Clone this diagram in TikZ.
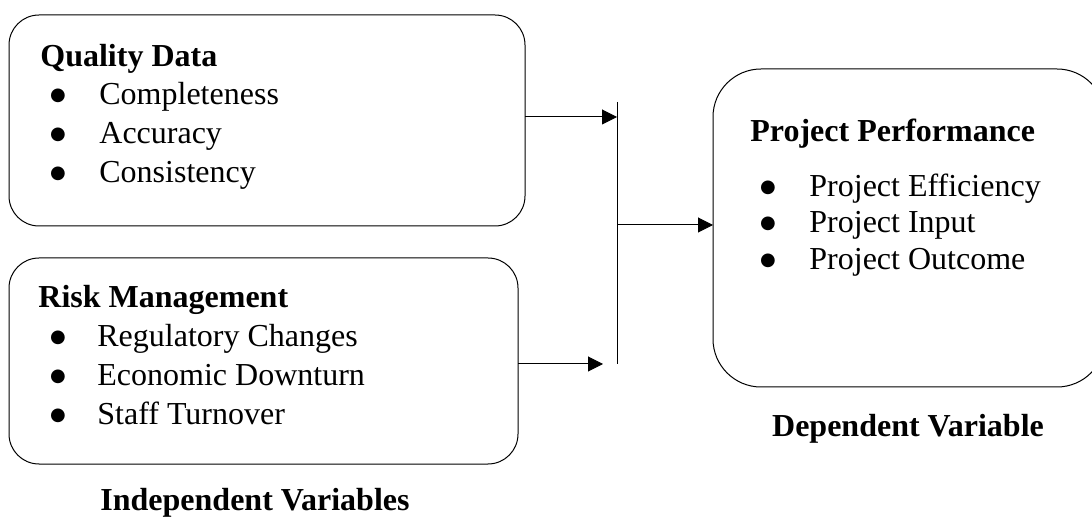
\documentclass[tikz,border=0pt]{standalone}
\usepackage{fontspec}
\setmainfont{Liberation Serif}
\newfontfamily\bulfont{DejaVu Sans}
\usetikzlibrary{arrows.meta}
\begin{document}
\begin{tikzpicture}[x=0.5pt,y=-0.5pt,
  box/.style={draw, line width=0.5pt, inner sep=0pt, outer sep=0pt, anchor=north west},
  txt/.style={anchor=base west, inner sep=0pt, font=\fontsize{16}{18}\selectfont},
  head/.style={anchor=base west, inner sep=0pt, font=\fontsize{16}{18}\selectfont\bfseries},
  captxt/.style={anchor=base, inner sep=0pt, font=\fontsize{16}{18}\selectfont\bfseries},
  bul/.style={anchor=base, inner sep=0pt, font=\bulfont\fontsize{9}{10}\selectfont},
  arr/.style={line width=0.5pt, -{Triangle[length=7.5pt,width=7.5pt]}},
  barline/.style={line width=0.5pt}]
\useasboundingbox (0,0) rectangle (1092,523);
\clip (0,0) rectangle (1092,523);
\fill[white] (0,0) rectangle (1092,523);

% boxes
\node[box, rounded corners=15pt, minimum width=258pt, minimum height=105.5pt] (qd) at (9,15) {};
\node[box, rounded corners=15pt, minimum width=254.5pt, minimum height=103pt] (rm) at (9,258) {};
\node[box, rounded corners=24pt, minimum width=196pt, minimum height=159pt] (pp) at (713,69) {};

% Quality Data
\node[head] (qdh) at (40,67) {Quality Data};
\node[bul] (qb1) at (58,101) {●};
\node[bul] (qb2) at (58,140) {●};
\node[bul] (qb3) at (58,179) {●};
\node[txt] (qt1) at (99,105) {Completeness};
\node[txt] (qt2) at (99,144) {Accuracy};
\node[txt] (qt3) at (99,183) {Consistency};

% Risk Management
\node[head] (rmh) at (38,308) {Risk Management};
\node[bul] (rb1) at (58,343) {●};
\node[bul] (rb2) at (58,382) {●};
\node[bul] (rb3) at (58,421) {●};
\node[txt] (rt1) at (97,347) {Regulatory Changes};
\node[txt] (rt2) at (97,386) {Economic Downturn};
\node[txt] (rt3) at (97,425) {Staff Turnover};

% Project Performance
\node[head] (pph) at (750,142) {Project Performance};
\node[bul] (pb1) at (768,193) {●};
\node[bul] (pb2) at (768,229) {●};
\node[bul] (pb3) at (768,266) {●};
\node[txt] (pt1) at (809,197) {Project Efficiency};
\node[txt] (pt2) at (809,233) {Project Input};
\node[txt] (pt3) at (809,270) {Project Outcome};

% captions
\node[captxt] (iv) at (255,510) {Independent Variables};
\node[captxt] (dv) at (908,437) {Dependent Variable};

% connectors
\coordinate (bartop) at (617,102);
\coordinate (barbot) at (617,364);
\coordinate (a2end) at (603,364);
\draw[barline] (bartop) -- (barbot);
\draw[arr] ([yshift=1.75pt]qd.east) -- ([yshift=1.75pt]qd.east -| bartop);
\draw[arr] (rm.east |- a2end) -- (a2end);
\draw[arr] ([yshift=1.5pt]pp.west -| bartop) -- ([yshift=1.5pt]pp.west);
\end{tikzpicture}
\end{document}
